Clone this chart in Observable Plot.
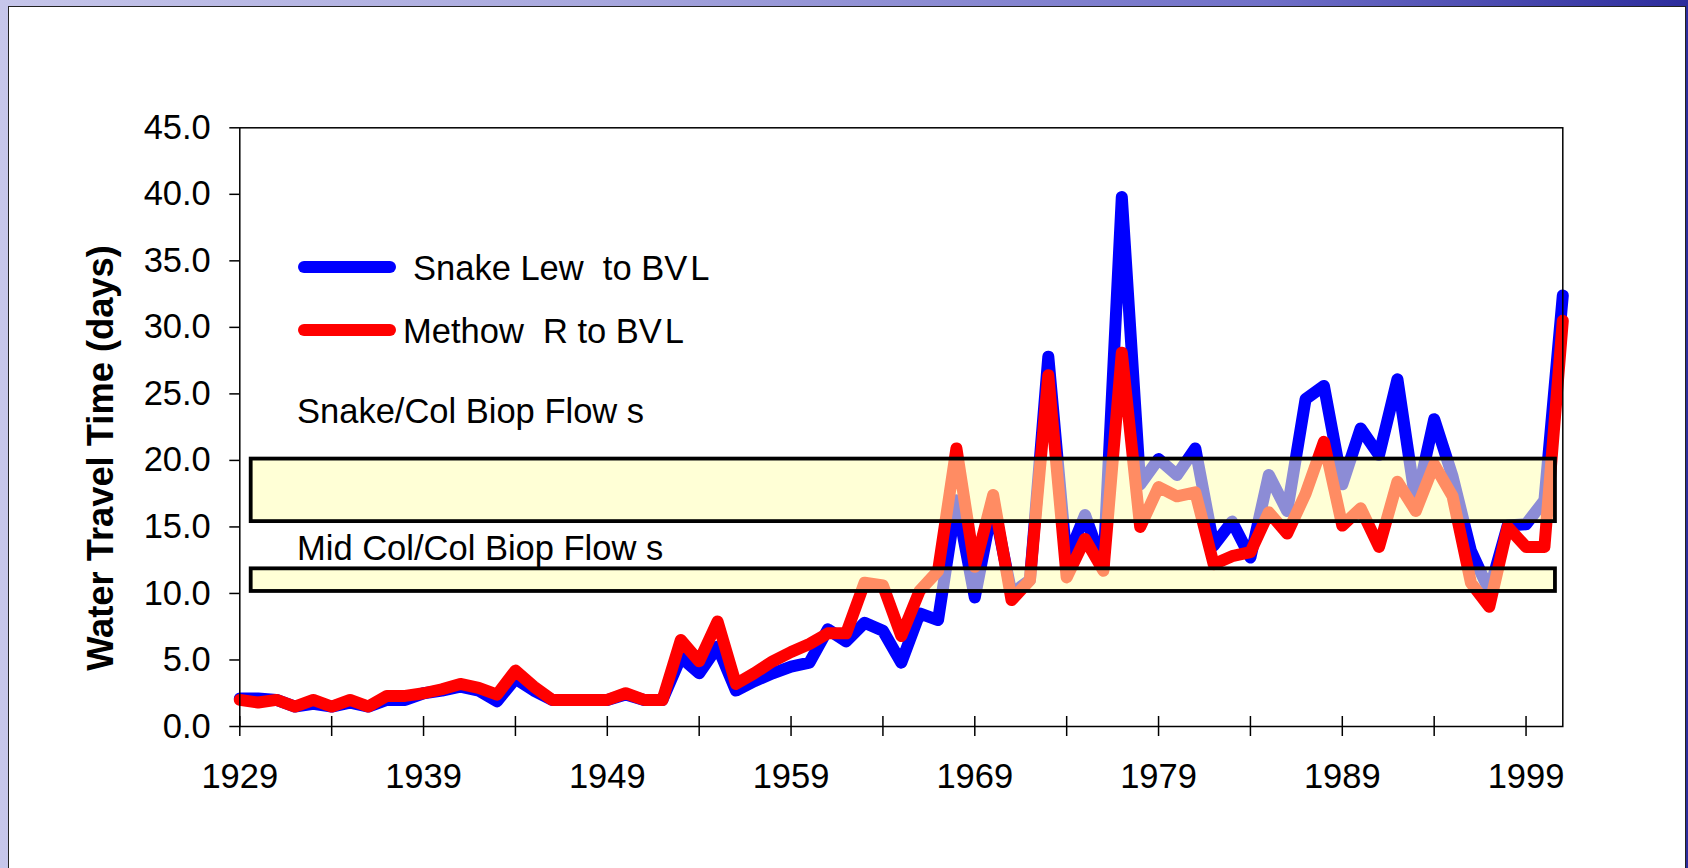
<!DOCTYPE html>
<html>
<head>
<meta charset="utf-8">
<script src="https://cdn.jsdelivr.net/npm/d3@7"></script>
<script src="https://cdn.jsdelivr.net/npm/@observablehq/plot@0.6"></script>
<style>
html, body { margin: 0; padding: 0; }
body {
  width: 1688px; height: 868px; overflow: hidden; position: relative;
  background: linear-gradient(90deg, #c6c6ea 0%, #a8a8de 35%, #7070c8 75%, #2c2c9c 100%);
}
#chart { position: absolute; left: 9px; top: 7px; width: 1676px; height: 861px; background: #fff; box-shadow: 0 0 0 1px #222; }
#chart svg { display: block; }
.lbl { position: absolute; font-family: "Liberation Sans", Arial, sans-serif; font-size: 34.5px; line-height: 1; color: #000; white-space: pre; }
.key { position: absolute; height: 12px; border-radius: 6px; width: 98px; left: 298px; }
#ytitle { position: absolute; left: 101px; top: 458px; transform: translate(-50%, -50%) rotate(-90deg);
  font-family: "Liberation Sans", Arial, sans-serif; font-weight: bold; font-size: 36.3px; line-height: 1; white-space: pre; }
</style>
</head>
<body>
<div id="chart"></div>
<div class="key" style="top:261px; background:#0000ff;"></div>
<div class="key" style="top:324px; background:#ff0000;"></div>
<div class="lbl" style="left:413px; top:251px;">Snake Lew  to BV<span style="letter-spacing:0">&#8202;</span>L</div>
<div class="lbl" style="left:403px; top:314px;">Methow  R to BV<span style="letter-spacing:0">&#8202;</span>L</div>
<div class="lbl" style="left:297px; top:394px;">Snake/Col Biop Flow s</div>
<div class="lbl" style="left:297px; top:531px;">Mid Col/Col Biop Flow s</div>
<div id="ytitle">Water Travel Time (days)</div>
<script>
const years = [1929,1930,1931,1932,1933,1934,1935,1936,1937,1938,
  1939,1940,1941,1942,1943,1944,1945,1946,1947,1948,
  1949,1950,1951,1952,1953,1954,1955,1956,1957,1958,
  1959,1960,1961,1962,1963,1964,1965,1966,1967,1968,
  1969,1970,1971,1972,1973,1974,1975,1976,1977,1978,
  1979,1980,1981,1982,1983,1984,1985,1986,1987,1988,
  1989,1990,1991,1992,1993,1994,1995,1996,1997,1998,
  1999,2000,2001];

// Snake Lew to BVL (days)
const snake = [2.1,2.1,2.0,1.5,1.7,1.5,1.8,1.5,2.0,2.0,
  2.5,2.7,3.0,2.7,1.9,3.6,2.7,2.0,2.0,2.0,
  2.0,2.4,2.0,2.0,5.2,4.0,6.0,2.7,3.4,4.0,
  4.5,4.8,7.3,6.4,7.8,7.2,4.8,8.5,8.0,17.0,
  9.7,16.8,10.0,11.0,27.8,12.5,15.9,12.0,39.8,18.2,
  20.1,18.9,20.9,13.6,15.4,12.7,18.9,16.2,24.6,25.6,
  18.2,22.4,20.4,26.1,16.8,23.1,18.8,13.2,10.2,15.1,
  15.2,17.0,32.4];

// Methow R to BVL (days)
const methow = [2.0,1.8,2.0,1.5,2.0,1.5,2.0,1.5,2.3,2.3,
  2.5,2.8,3.2,2.9,2.4,4.2,3.0,2.0,2.0,2.0,
  2.0,2.5,2.0,2.0,6.5,4.9,7.9,3.2,4.0,4.9,
  5.6,6.2,7.0,7.0,10.8,10.6,6.8,10.2,11.7,20.9,
  12.0,17.4,9.5,11.0,26.4,11.2,14.1,11.7,28.1,15.0,
  18.0,17.3,17.6,12.2,12.8,13.1,16.1,14.5,17.5,21.4,
  15.1,16.4,13.5,18.4,16.2,19.7,17.3,10.8,9.0,15.0,
  13.5,13.5,30.5];

// Biop flow bands (days)
const bandNames = ["Snake/Col Biop Flows", "Mid Col/Col Biop Flows"];
const bandLow = [15.4, 10.15];
const bandHigh = [20.1, 11.85];
const bandStart = [1929.62, 1929.62];
const bandEnd = [2000.6, 2000.6];

const yTicks = [0,5,10,15,20,25,30,35,40,45];
const xMinorTicks = [1929,1934,1939,1944,1949,1954,1959,1964,1969,1974,1979,1984,1989,1994,1999];
const xLabelTicks = [1929,1939,1949,1959,1969,1979,1989,1999];

const data = years.map((yr, i) => ({year: yr, snake: snake[i], methow: methow[i]}));
const bands = bandNames.map((n, i) => ({name: n, lo: bandLow[i], hi: bandHigh[i], x1: bandStart[i], x2: bandEnd[i]}));

const chart = Plot.plot({
  width: 1676,
  height: 861,
  marginLeft: 230.3,
  marginTop: 120.3,
  marginRight: 122.7,
  marginBottom: 142,
  style: {background: "white", fontFamily: "Liberation Sans, Arial, sans-serif", fontSize: "34.5px", color: "#000", overflow: "visible"},
  x: {domain: [1929, 2001]},
  y: {domain: [0, 45]},
  marks: [
    Plot.lineY(data, {x: "year", y: "snake", stroke: "#0000ff", strokeWidth: 12, strokeLinejoin: "round", strokeLinecap: "round"}),
    Plot.lineY(data, {x: "year", y: "methow", stroke: "#ff0000", strokeWidth: 12, strokeLinejoin: "round", strokeLinecap: "round"}),
    Plot.rect(bands, {x1: "x1", x2: "x2", y1: "lo", y2: "hi", fill: "#ffffb4", fillOpacity: 0.55, stroke: "#000", strokeWidth: 3.8}),
    Plot.frame({stroke: "#000", strokeWidth: 1.5}),
    Plot.axisY({ticks: yTicks, tickFormat: d => d.toFixed(1), tickSize: 10, tickPadding: 19, fontSize: 34.5, strokeWidth: 1.5, label: null}),
    Plot.axisX({ticks: xMinorTicks, tickFormat: () => "", tickSize: 10, strokeWidth: 1.5, label: null}),
    Plot.ruleX(xMinorTicks, {x: d => d, y1: 0, y2: 0.75, stroke: "#000", strokeWidth: 1.5}),
    Plot.axisX({ticks: xLabelTicks, tickFormat: d => String(d), tickSize: 0, tickPadding: 37, fontSize: 34.5, label: null})
  ]
});
document.getElementById("chart").appendChild(chart);
</script>
</body>
</html>
